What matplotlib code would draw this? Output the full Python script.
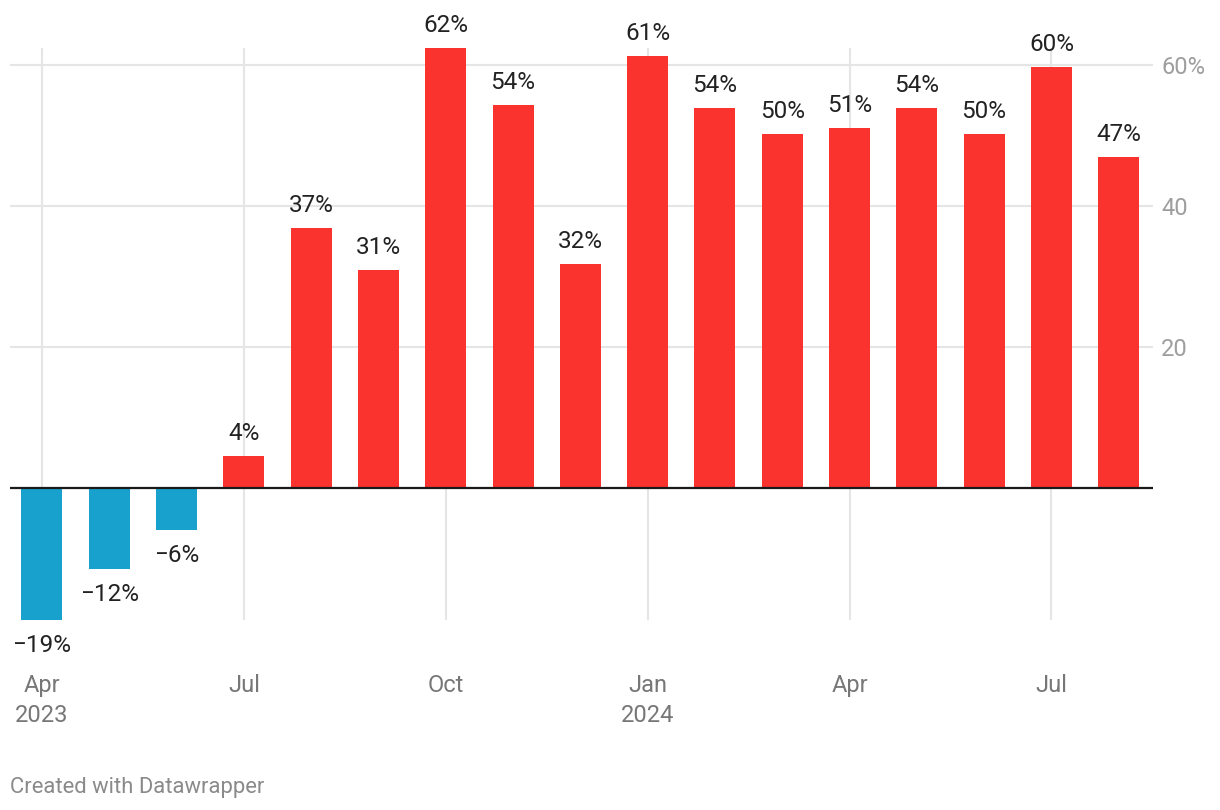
import matplotlib.pyplot as plt
import numpy as np

months = ["Apr", "May", "Jun", "Jul", "Aug", "Sep", "Oct", "Nov", "Dec",
          "Jan", "Feb", "Mar", "Apr", "May", "Jun", "Jul", "Aug"]
values = [-18.7, -11.5, -6.0, 4.5, 36.9, 30.9, 62.4, 54.3, 31.8,
          61.3, 53.9, 50.2, 51.1, 53.9, 50.2, 59.7, 47.0]
value_labels = ["−19%", "−12%", "−6%", "4%", "37%", "31%", "62%", "54%", "32%",
                "61%", "54%", "50%", "51%", "54%", "50%", "60%", "47%"]
tick_idx = [0, 3, 6, 9, 12, 15]
tick_labels = ["Apr\n2023", "Jul", "Oct", "Jan\n2024", "Apr", "Jul"]
y_ticks = [20, 40, 60]
y_tick_labels = ["20", "40", "60%"]

plt.rcParams['font.family'] = ['Roboto', 'DejaVu Sans']

RED = "#fa332e"
BLUE = "#18a1cd"
GRID = "#e5e5e5"

fig = plt.figure(figsize=(12.2, 8.1), dpi=100)
ax = fig.add_axes([10 / 1220, 1 - 620 / 810, 1143 / 1220, 572 / 810])

x = np.arange(len(values))
colors = [BLUE if v < 0 else RED for v in values]
ax.bar(x, values, width=0.61, color=colors, zorder=2)

# value labels above / below each bar
for xi, v, lab in zip(x, values, value_labels):
    off = 16.2 if v >= 0 else -18.2
    ax.annotate(lab, (xi, v), xytext=(0, off), textcoords='offset points',
                ha='center', va='center', fontsize=17.5, color="#222222")

ax.set_xlim(-0.475, 16.51)
ax.set_ylim(-18.7, 62.4)

for i in tick_idx:
    ax.axvline(i, color=GRID, lw=1.5, zorder=0)
for yv in y_ticks:
    ax.axhline(yv, color=GRID, lw=1.5, zorder=0)
ax.axhline(0, color="#1a1a1a", lw=1.6, zorder=3)

ax.set_xticks(tick_idx)
ax.set_xticklabels(tick_labels, fontsize=17, color="#777777", linespacing=1.37)
ax.tick_params(axis='x', length=0, pad=39)

ax.yaxis.tick_right()
ax.set_yticks(y_ticks)
ax.set_yticklabels(y_tick_labels, fontsize=17, color="#9e9e9e")
ax.tick_params(axis='y', length=0, pad=6)

for s in ax.spines.values():
    s.set_visible(False)

fig.text(10 / 1220, 1 - 787 / 810, "Created with Datawrapper", fontsize=15.8,
         color="#8a8a8a", ha='left', va='center')

fig.savefig("out.png", dpi=100)
